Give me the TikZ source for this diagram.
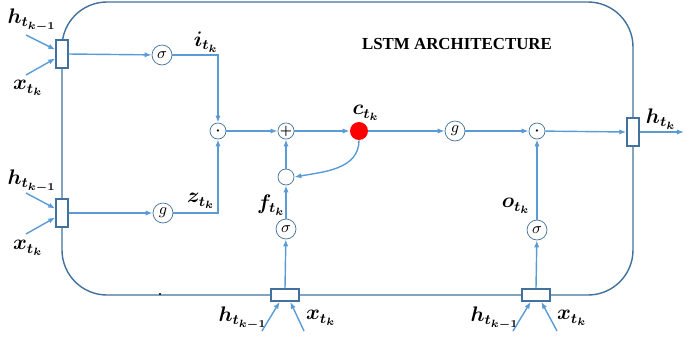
\documentclass[tikz,border=0pt]{standalone}
\usepackage{amsmath}
\usepackage{fontspec}
\usepackage{tikz}
\usetikzlibrary{arrows.meta,positioning,calc}
\newfontfamily\titlefont{Liberation Serif}
\definecolor{wire}{HTML}{5B9BD5}
\definecolor{rim}{HTML}{41719C}
\definecolor{cellred}{HTML}{FF0000}

\begin{document}
\begin{tikzpicture}[x=0.02cm,y=-0.02cm,
  gate/.style={circle,draw=rim,fill=white,minimum size=0.4cm,inner sep=0pt,font=\small},
  prod/.style={circle,draw=rim,fill=white,minimum size=0.32cm,inner sep=0pt,font=\footnotesize},
  inbox/.style={draw=rim,thick,fill=white,minimum width=0.24cm,minimum height=0.56cm,inner sep=0pt},
  botbox/.style={draw=rim,thick,fill=white,minimum width=0.56cm,minimum height=0.24cm,inner sep=0pt},
  flow/.style={-{Latex[length=4pt,width=3pt]},wire,thick},
  lbl/.style={font=\boldmath\large,inner sep=1pt}]
\useasboundingbox (0,0) rectangle (694,339);
% outer frame
\draw[rim,thick,rounded corners=0.9cm] (62,2) rectangle (633,295);
\fill (160,294) circle (0.7pt);
\node[font=\titlefont\bfseries\fontsize{9.6}{12}\selectfont] (title) at (457,44) {LSTM ARCHITECTURE};
% input boxes
\node[inbox] (inA) at (62,54) {};
\node[inbox] (inB) at (62,213) {};
\node[inbox] (out) at (633,132) {};
\node[botbox] (inF) at (285,295) {};
\node[botbox] (inO) at (536,295) {};
% gates
\node[gate] (gi) at (162,55) {$\sigma$};
\node[gate] (gz) at (163,213) {$g$};
\node[prod] (mi) at (218,131) {$\boldsymbol{\cdot}$};
\node[prod] (add) at (286,131) {\scriptsize$\boldsymbol{+}$};
\node[circle,fill=cellred,minimum size=0.36cm,inner sep=0pt] (cell) at (359,131) {};
\node[gate] (gc) at (455,131) {$g$};
\node[prod] (mo) at (537,131) {$\boldsymbol{\cdot}$};
\node[prod] (fm) at (286,177) {};
\node[gate] (gf) at (286,229) {$\sigma$};
\node[gate] (go) at (537,230) {$\sigma$};
% labels
\node[lbl] (hA) at (32,20) {$h_{t_{k-1}}$};
\node[lbl] (xA) at (28,88) {$x_{t_k}$};
\node[lbl] (hB) at (32,181) {$h_{t_{k-1}}$};
\node[lbl] (xB) at (28,248) {$x_{t_k}$};
\node[lbl] (hF) at (243,318) {$h_{t_{k-1}}$};
\node[lbl] (xF) at (321,318) {$x_{t_k}$};
\node[lbl] (hO) at (495,318) {$h_{t_{k-1}}$};
\node[lbl] (xO) at (572,318) {$x_{t_k}$};
\node[lbl] (li) at (206,42) {$i_{t_k}$};
\node[lbl] (lz) at (201,201) {$z_{t_k}$};
\node[lbl] (lc) at (366,113) {$c_{t_k}$};
\node[lbl] (lf) at (271,205) {$f_{t_k}$};
\node[lbl] (lo) at (516,206) {$o_{t_k}$};
\node[lbl] (lh) at (661,119) {$h_{t_k}$};
% free ends of the inputs
\coordinate (hAs) at (26,35);
\coordinate (xAs) at (26,75);
\coordinate (hBs) at (26,193);
\coordinate (xBs) at (26,234);
\coordinate (hFs) at (262,331);
\coordinate (xFs) at (304,331);
\coordinate (hOs) at (513,331);
\coordinate (xOs) at (557,331);
\coordinate (hout) at (684,132);
\draw[flow] (hAs) -- ([yshift=2.5pt]inA.west);
\draw[flow] (xAs) -- ([yshift=-2.5pt]inA.west);
\draw[flow] (hBs) -- ([yshift=2.5pt]inB.west);
\draw[flow] (xBs) -- ([yshift=-2.5pt]inB.west);
\draw[flow] (hFs) -- ([xshift=-3pt]inF.south);
\draw[flow] (xFs) -- ([xshift=3pt]inF.south);
\draw[flow] (hOs) -- ([xshift=-3pt]inO.south);
\draw[flow] (xOs) -- ([xshift=3pt]inO.south);
% connections
\draw[flow] (inA.east) -- (gi);
\draw[flow] (inB.east) -- (gz);
\draw[flow] (gi.east) -| (mi.north);
\draw[flow] (gz.east) -| (mi.south);
\draw[flow] (mi) -- (add);
\draw[flow] (add) -- (cell);
\draw[flow] (cell) -- (gc);
\draw[flow] (gc) -- (mo);
\draw[flow] (mo) -- (out.west);
\draw[flow] (out.east) -- (hout);
\draw[flow] (cell.south) to[out=-90,in=10] (fm.east);
\draw[flow] (fm) -- (add);
\draw[flow] (gf) -- (fm);
\draw[flow] (inF.north) -- (gf);
\draw[flow] (inO.north) -- (go);
\draw[flow] (go) -- (mo);
\end{tikzpicture}
\end{document}
